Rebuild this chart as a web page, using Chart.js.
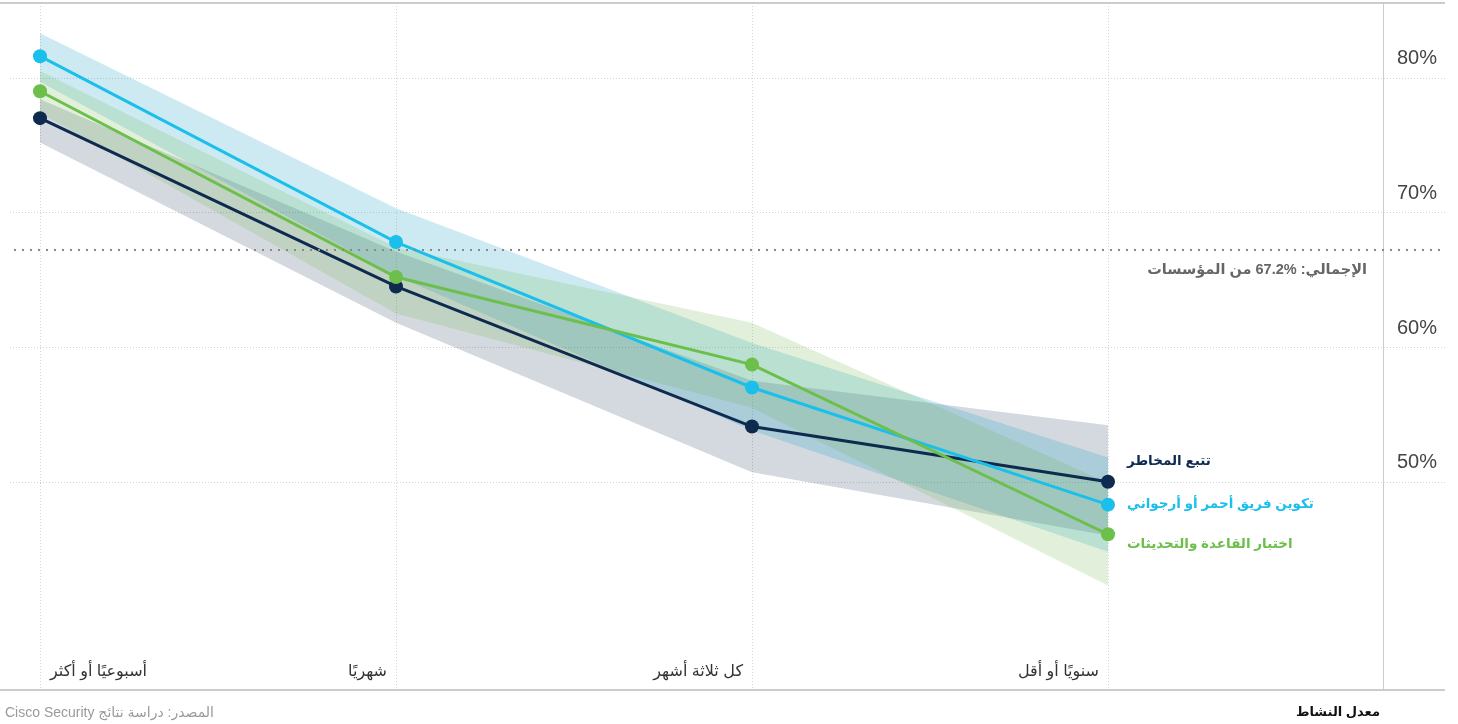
<!DOCTYPE html>
<html lang="ar">
<head>
<meta charset="utf-8">
<title>معدل النشاط</title>
<script src="https://cdn.jsdelivr.net/npm/chart.js@4/dist/chart.umd.min.js"></script>
<style>
  html, body { margin: 0; padding: 0; background: #fff; }
  #chart { display: block; }
</style>
</head>
<body>
<canvas id="chart" width="1458" height="724"></canvas>
<script>
// ------------------------- DATA -------------------------------------
var categories = ['أسبوعيًا أو أكثر', 'شهريًا', 'كل ثلاثة أشهر', 'سنويًا أو أقل'];

var threatHunting     = [77.0, 64.5, 54.1, 50.0];
var threatHuntingHigh = [78.4, 67.1, 57.5, 54.2];
var threatHuntingLow  = [75.2, 61.8, 50.7, 46.0];

var redTeam     = [81.6, 67.8, 57.0, 48.3];
var redTeamHigh = [83.3, 70.3, 60.3, 51.8];
var redTeamLow  = [79.7, 65.3, 53.8, 44.8];

var baseTesting     = [79.0, 65.2, 58.7, 46.1];
var baseTestingHigh = [80.5, 67.4, 61.8, 49.9];
var baseTestingLow  = [77.4, 62.5, 55.5, 42.3];

var seriesNames = ['تتبع المخاطر', 'تكوين فريق أحمر أو أرجواني', 'اختبار القاعدة والتحديثات'];
var overall = 67.2;
// the number is isolated so that it keeps the % on its right, as in the original
var overallLabel = 'الإجمالي: \u206667.2%\u2069 من المؤسسات';
var yTicks = [50, 60, 70, 80];
var tickSuffix = '%';
var axisTitle = 'معدل النشاط';
var sourceText = 'المصدر: دراسة نتائج Cisco Security';

// ------------------------- STYLE -------------------------------------
var NAVY = '#0f2a4f';
var CYAN = '#1bbfec';
var GREEN = '#6dbf4b';
var FONT = '"Liberation Sans", "DejaVu Sans", Arial, sans-serif';

// turn a value array into {x, y} points
function toPoints(arr) {
  return arr.map(function(v, i) { return { x: i, y: v }; });
}

function lineSet(label, data, color, order) {
  return {
    label: label,
    data: toPoints(data),
    borderColor: color,
    backgroundColor: color,
    borderWidth: 3,
    pointRadius: 7,
    pointBorderWidth: 0,
    pointBackgroundColor: color,
    tension: 0,
    fill: false,
    order: order
  };
}

function bandSet(data, fillColor, fillTo, order) {
  return {
    label: '',
    data: toPoints(data),
    borderWidth: 0,
    borderColor: 'rgba(0,0,0,0)',
    pointRadius: 0,
    tension: 0,
    backgroundColor: fillColor,
    fill: fillTo,
    order: order
  };
}

var datasets = [
  bandSet(threatHuntingHigh, 'rgba(15,42,79,0.18)', '+1', 12),
  bandSet(threatHuntingLow, 'rgba(0,0,0,0)', false, 12),
  bandSet(redTeamHigh, 'rgba(5,150,190,0.2)', '+1', 11),
  bandSet(redTeamLow, 'rgba(0,0,0,0)', false, 11),
  bandSet(baseTestingHigh, 'rgba(109,180,75,0.2)', '+1', 10),
  bandSet(baseTestingLow, 'rgba(0,0,0,0)', false, 10),
  lineSet(seriesNames[0], threatHunting, NAVY, 3),
  lineSet(seriesNames[1], redTeam, CYAN, 2),
  lineSet(seriesNames[2], baseTesting, GREEN, 1)
];

// ------------------------- DECORATION PLUGIN -------------------------------------
var decor = {
  id: 'decor',
  beforeDraw: function(chart) {
    var ctx = chart.ctx, x = chart.scales.x, y = chart.scales.y, a = chart.chartArea;
    ctx.save();
    // dotted vertical grid at each category
    ctx.strokeStyle = '#d4d4d4';
    ctx.lineWidth = 1;
    ctx.setLineDash([1, 2]);
    categories.forEach(function(c, i) {
      var px = Math.round(x.getPixelForValue(i)) + 0.5;
      ctx.beginPath();
      ctx.moveTo(px, a.top);
      ctx.lineTo(px, a.bottom);
      ctx.stroke();
    });
    // dotted horizontal grid at each tick
    yTicks.forEach(function(t) {
      var py = Math.round(y.getPixelForValue(t)) + 0.5;
      ctx.beginPath();
      ctx.moveTo(10, py);
      ctx.lineTo(1445, py);
      ctx.stroke();
    });
    ctx.setLineDash([]);
    // frame lines
    ctx.strokeStyle = '#cccccc';
    ctx.lineWidth = 2;
    ctx.beginPath();
    ctx.moveTo(0, a.top);
    ctx.lineTo(1445, a.top);
    ctx.moveTo(0, a.bottom + 1);
    ctx.lineTo(1445, a.bottom + 1);
    ctx.stroke();
    ctx.lineWidth = 1;
    ctx.beginPath();
    ctx.moveTo(a.right + 0.5, a.top);
    ctx.lineTo(a.right + 0.5, a.bottom);
    ctx.stroke();
    ctx.restore();
  },
  afterDatasetsDraw: function(chart) {
    var ctx = chart.ctx, y = chart.scales.y;
    var py = Math.round(y.getPixelForValue(overall));
    ctx.save();
    ctx.strokeStyle = '#888888';
    ctx.lineWidth = 2;
    ctx.setLineDash([2, 6]);
    ctx.beginPath();
    ctx.moveTo(14, py);
    ctx.lineTo(1445, py);
    ctx.stroke();
    ctx.restore();
  },
  afterDraw: function(chart) {
    var ctx = chart.ctx, x = chart.scales.x, y = chart.scales.y, a = chart.chartArea;
    ctx.save();
    ctx.textBaseline = 'middle';

    // y tick labels, sitting above their grid lines
    ctx.direction = 'ltr';
    ctx.font = '20px ' + FONT;
    ctx.fillStyle = '#444444';
    ctx.textAlign = 'left';
    yTicks.forEach(function(t) {
      ctx.fillText(t + tickSuffix, a.right + 14, y.getPixelForValue(t) - 19);
    });

    ctx.direction = 'rtl';
    // category labels
    ctx.font = '16px ' + FONT;
    ctx.fillStyle = '#333333';
    categories.forEach(function(c, i) {
      var px = x.getPixelForValue(i);
      if (i === 0) {
        ctx.textAlign = 'left';
        ctx.fillText(c, px + 10, a.bottom - 17);
      } else {
        ctx.textAlign = 'right';
        ctx.fillText(c, px - 9, a.bottom - 17);
      }
    });

    // series labels next to the last points
    var lasts = [threatHunting, redTeam, baseTesting];
    var colors = [NAVY, CYAN, GREEN];
    var shifts = [-20, 0, 10];
    ctx.font = 'bold 13.5px ' + FONT;
    ctx.textAlign = 'left';
    lasts.forEach(function(arr, k) {
      var last = arr.length - 1;
      ctx.fillStyle = colors[k];
      ctx.fillText(seriesNames[k], x.getPixelForValue(last) + 19, y.getPixelForValue(arr[last]) + shifts[k]);
    });

    // overall label
    ctx.font = 'bold 14.5px ' + FONT;
    ctx.fillStyle = '#666666';
    ctx.textAlign = 'right';
    ctx.fillText(overallLabel, a.right - 16, y.getPixelForValue(overall) + 20);

    // axis title and source
    ctx.font = 'bold 13px ' + FONT;
    ctx.fillStyle = '#111111';
    ctx.fillText(axisTitle, 1380, 712);
    ctx.font = '14px ' + FONT;
    ctx.fillStyle = '#9a9a9a';
    ctx.textAlign = 'left';
    ctx.fillText(sourceText, 5, 713);
    ctx.restore();
  }
};

// ------------------------- CHART -------------------------------------
var step = 356;     // pixels between categories
var firstPx = 40;   // pixel of the first category
var areaW = 1383;   // chart area width

var chart = new Chart(document.getElementById('chart'), {
  type: 'line',
  data: { datasets: datasets },
  options: {
    responsive: false,
    animation: false,
    events: [],
    layout: { autoPadding: false, padding: { left: 0, top: 3, right: 1458 - areaW, bottom: 35 } },
    scales: {
      x: {
        type: 'linear',
        display: false,
        min: -firstPx / step,
        max: (areaW - firstPx) / step
      },
      y: {
        type: 'linear',
        display: false,
        min: 34.61,
        max: 85.55
      }
    },
    plugins: {
      legend: { display: false },
      tooltip: { enabled: false },
      filler: { propagate: false }
    }
  },
  plugins: [decor]
});
</script>
</body>
</html>
